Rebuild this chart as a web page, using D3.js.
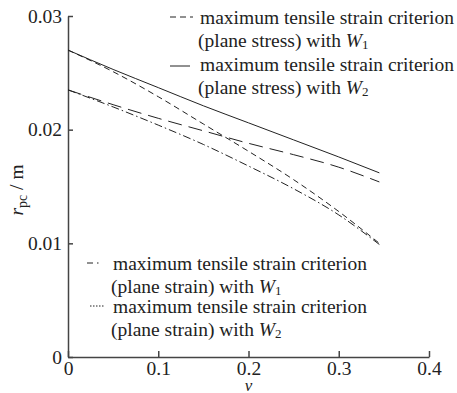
<!DOCTYPE html>
<html>
<head>
<meta charset="utf-8">
<script src="https://cdn.jsdelivr.net/npm/d3@7"></script>
<style>
  body { margin: 0; background: #fff; }
  svg { display: block; }
  svg text { font-family: "Liberation Serif", "Times New Roman", Times, serif; fill: #222; }
</style>
</head>
<body>
<svg id="chart" width="457" height="393"></svg>
<script>
// values
var nu = [0, 0.05, 0.1, 0.15, 0.2, 0.25, 0.3, 0.345];
var stressW2 = [0.0270, 0.0253, 0.0237, 0.0221, 0.0206, 0.0191, 0.0176, 0.0162];   // solid
var stressW1 = [0.0270, 0.0251, 0.0229, 0.0205, 0.0181, 0.0156, 0.0128, 0.0100];   // short dash
var strainW1 = [0.0235, 0.0222, 0.0210, 0.0199, 0.0188, 0.0178, 0.0167, 0.0154];   // long dash
var strainW2 = [0.0235, 0.0220, 0.0204, 0.0187, 0.0168, 0.0148, 0.0125, 0.0099];   // dash-dot
var xTicks = [0, 0.1, 0.2, 0.3, 0.4];
var yTicks = [0, 0.01, 0.02, 0.03];

var svg = d3.select('#chart');
var fontSize = 19.5;
var serif = '"Liberation Serif", "Times New Roman", Times, serif';

var x = d3.scaleLinear().domain([0, 0.4]).range([68, 429]);
var y = d3.scaleLinear().domain([0, 0.03]).range([357, 16]);

// axes, ticks pointing inward
var yAxis = svg.append('g')
  .attr('transform', 'translate(' + x(0) + ',0)')
  .call(d3.axisLeft(y).tickValues(yTicks).tickSizeInner(-5).tickSizeOuter(0).tickPadding(6)
    .tickFormat(d => d === 0 ? '0' : d.toFixed(2)));
var xAxis = svg.append('g')
  .attr('transform', 'translate(0,' + y(0) + ')')
  .call(d3.axisBottom(x).tickValues(xTicks).tickSizeInner(-6).tickSizeOuter(0).tickPadding(4)
    .tickFormat(d => d === 0 ? '0' : d.toFixed(1)));
[xAxis, yAxis].forEach(function(a) {
  a.attr('font-size', null).attr('font-family', serif);
  a.selectAll('path, line').attr('stroke', '#444').attr('stroke-width', 1.5);
  a.selectAll('text').attr('font-family', serif).style('font-size', fontSize + 'px').attr('fill', '#222');
});

// curves
var line = d3.line()
  .x((d, i) => x(nu[i]))
  .y(d => y(d))
  .curve(d3.curveMonotoneX);

var curves = [
  { data: stressW2, dash: null },
  { data: stressW1, dash: '6,4' },
  { data: strainW1, dash: '14,7' },
  { data: strainW2, dash: '8,3,1.5,3' }
];
svg.selectAll('path.curve')
  .data(curves)
  .enter()
  .append('path')
  .attr('class', 'curve')
  .attr('d', d => line(d.data))
  .attr('fill', 'none')
  .attr('stroke', '#222')
  .attr('stroke-width', 1)
  .attr('stroke-dasharray', d => d.dash);

// legends
var legendItems = [
  { x1: 170, x2: 193, ly: 17, tx: 200, ty: 24, dash: '6,4', kind: 'plane stress', sub: '1' },
  { x1: 170, x2: 190, ly: 66, tx: 200, ty: 71, dash: null, kind: 'plane stress', sub: '2' },
  { x1: 87, x2: 101, ly: 263, tx: 113, ty: 270, dash: '6,4,1.5,4', kind: 'plane strain', sub: '1' },
  { x1: 90, x2: 104, ly: 306, tx: 113, ty: 313, dash: '1.5,1.5', kind: 'plane strain', sub: '2' }
];

legendItems.forEach(function(d) {
  svg.append('line')
    .attr('x1', d.x1).attr('x2', d.x2)
    .attr('y1', d.ly).attr('y2', d.ly)
    .attr('stroke', '#222').attr('stroke-width', 1)
    .attr('stroke-dasharray', d.dash);
  svg.append('text')
    .attr('x', d.tx).attr('y', d.ty)
    .attr('font-family', serif)
    .style('font-size', fontSize + 'px')
    .text('maximum tensile strain criterion');
  var t = svg.append('text')
    .attr('x', d.tx - 2).attr('y', d.ty + 23)
    .attr('font-family', serif)
    .style('font-size', fontSize + 'px');
  t.append('tspan').text('(' + d.kind + ') with ');
  t.append('tspan').style('font-style', 'italic').text('W');
  t.append('tspan').attr('dy', 2).style('font-size', '13px').text(d.sub);
});

// axis titles
var yl = svg.append('text')
  .attr('transform', 'translate(23,190) rotate(-90)')
  .attr('text-anchor', 'middle')
  .attr('font-family', serif)
  .style('font-size', fontSize + 'px');
yl.append('tspan').style('font-style', 'italic').text('r');
yl.append('tspan').attr('dy', 4).style('font-size', '14px').text('pc');
yl.append('tspan').attr('dy', -4).text(' / m');

svg.append('text')
  .attr('x', x(0.2)).attr('y', 391)
  .attr('text-anchor', 'middle')
  .attr('font-family', serif)
  .style('font-size', '17px')
  .style('font-style', 'italic')
  .text('v');
</script>
</body>
</html>
